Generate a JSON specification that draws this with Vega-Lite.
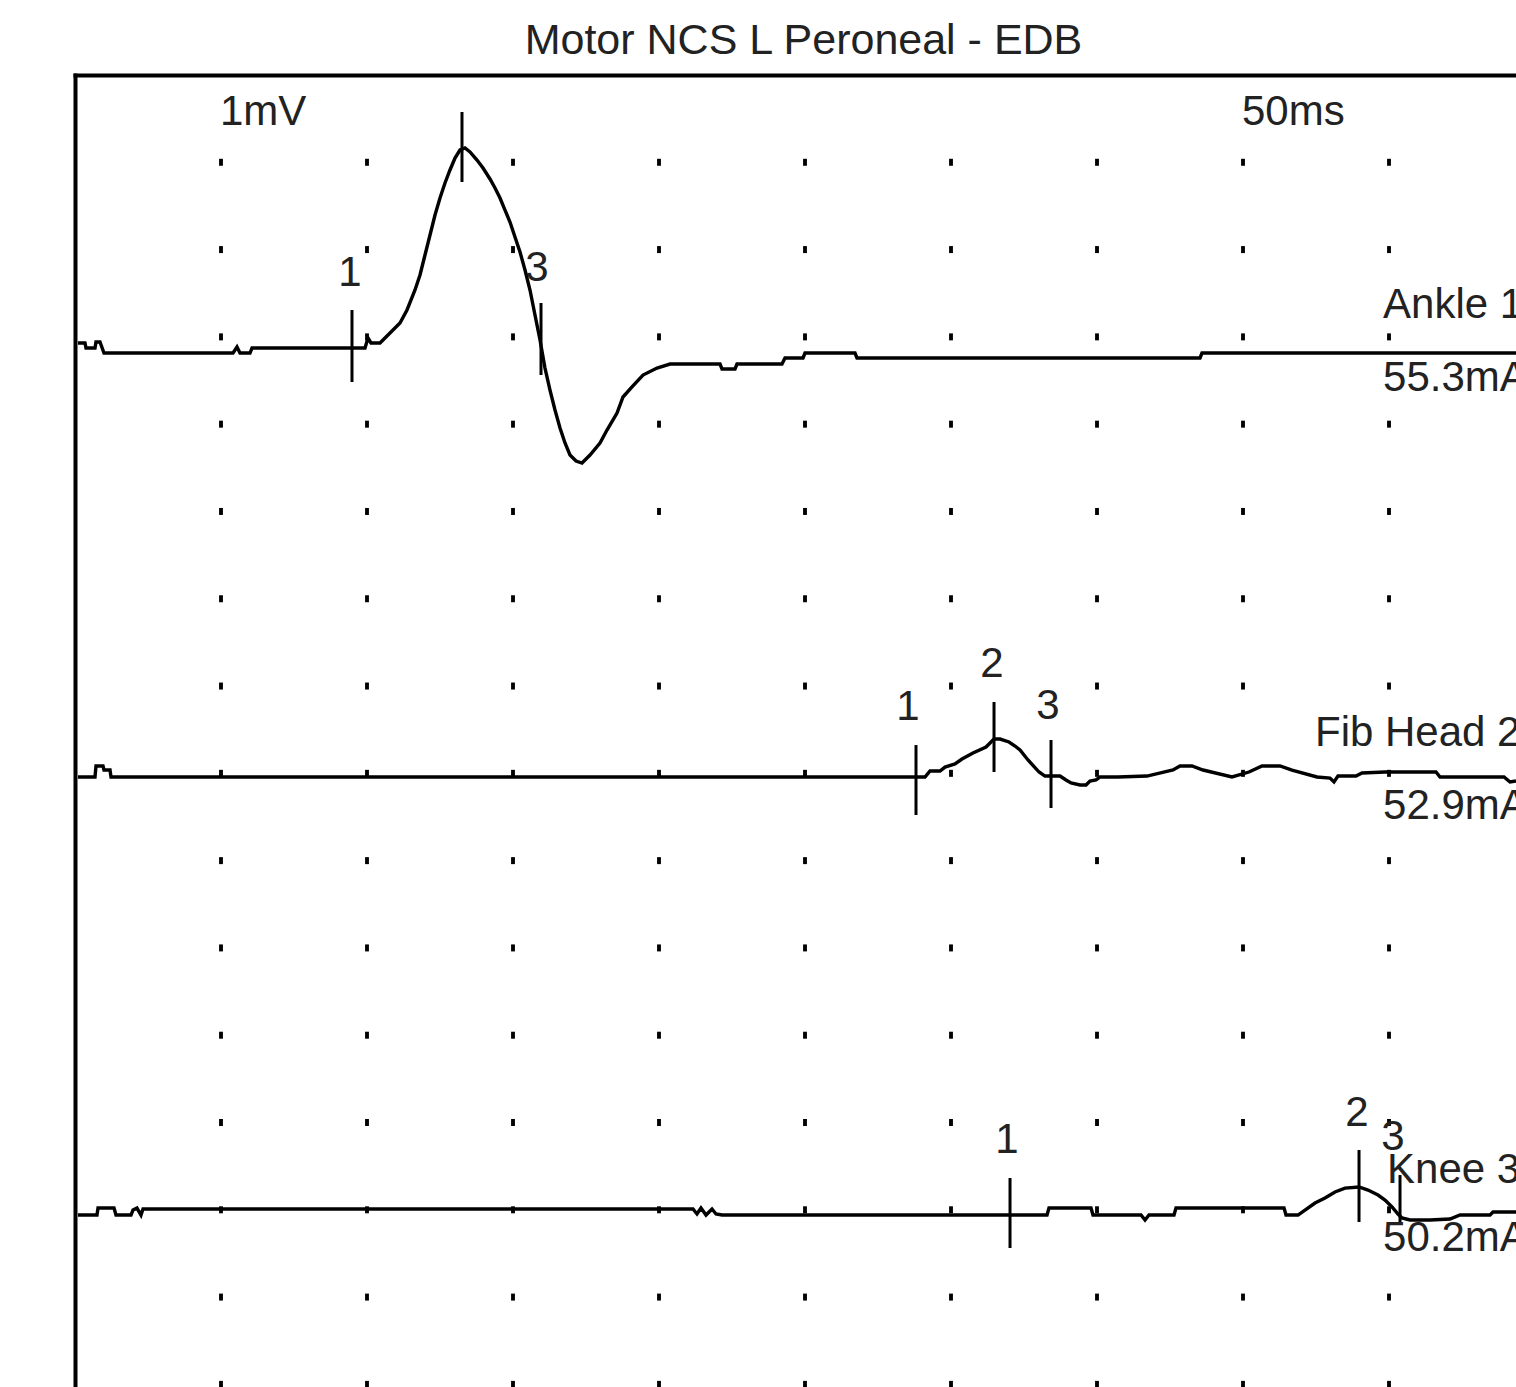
{
  "$schema": "https://vega.github.io/schema/vega-lite/v6.json",
  "width": 1441,
  "height": 1312,
  "autosize": {"type": "none"},
  "padding": {"left": 75, "top": 75, "right": 0, "bottom": 0},
  "background": "white",
  "title": {"text": "Motor NCS L Peroneal - EDB", "font": "Liberation Sans", "fontSize": 43, "fontWeight": "normal", "color": "#222222", "anchor": "middle", "dx": 8, "dy": 40, "offset": 18, "baseline": "alphabetic"},
  "config": {
    "view": {"stroke": null},
    "axisX": {"domain": true, "domainColor": "black", "domainWidth": 4, "domainCap": "square", "ticks": false, "labels": false, "grid": false, "title": null},
    "axisY": {"domain": true, "domainColor": "black", "domainWidth": 4, "domainCap": "square", "ticks": false, "labels": false, "grid": false, "title": null}
  },
  "datasets": {
    "grid": [
      {"x": 5, "ys": [0,1,2,3,4,5,6,7,8,9,10,11,12,13,14]},
      {"x": 10, "ys": [0,1,2,3,4,5,6,7,8,9,10,11,12,13,14]},
      {"x": 15, "ys": [0,1,2,3,4,5,6,7,8,9,10,11,12,13,14]},
      {"x": 20, "ys": [0,1,2,3,4,5,6,7,8,9,10,11,12,13,14]},
      {"x": 25, "ys": [0,1,2,3,4,5,6,7,8,9,10,11,12,13,14]},
      {"x": 30, "ys": [0,1,2,3,4,5,6,7,8,9,10,11,12,13,14]},
      {"x": 35, "ys": [0,1,2,3,4,5,6,7,8,9,10,11,12,13,14]},
      {"x": 40, "ys": [0,1,2,3,4,5,6,7,8,9,10,11,12,13,14]},
      {"x": 45, "ys": [0,1,2,3,4,5,6,7,8,9,10,11,12,13,14]}
    ],
    "traces": [
      {"t":"Ankle","x":0.103,"y":11.930},{"t":"Ankle","x":0.342,"y":11.930},{"t":"Ankle","x":0.377,"y":11.872},{"t":"Ankle","x":0.685,"y":11.872},
      {"t":"Ankle","x":0.719,"y":11.941},{"t":"Ankle","x":0.856,"y":11.941},{"t":"Ankle","x":0.993,"y":11.815},{"t":"Ankle","x":5.411,"y":11.815},
      {"t":"Ankle","x":5.548,"y":11.884},{"t":"Ankle","x":5.651,"y":11.815},{"t":"Ankle","x":5.993,"y":11.815},{"t":"Ankle","x":6.062,"y":11.872},
      {"t":"Ankle","x":9.932,"y":11.872},{"t":"Ankle","x":10.034,"y":11.987},{"t":"Ankle","x":10.137,"y":11.930},{"t":"Ankle","x":10.445,"y":11.930},
      {"t":"Ankle","x":10.788,"y":12.044},{"t":"Ankle","x":11.130,"y":12.159},{"t":"Ankle","x":11.370,"y":12.308},{"t":"Ankle","x":11.644,"y":12.537},
      {"t":"Ankle","x":11.815,"y":12.709},{"t":"Ankle","x":11.986,"y":12.938},{"t":"Ankle","x":12.158,"y":13.167},{"t":"Ankle","x":12.329,"y":13.396},
      {"t":"Ankle","x":12.500,"y":13.591},{"t":"Ankle","x":12.671,"y":13.763},{"t":"Ankle","x":12.842,"y":13.912},{"t":"Ankle","x":13.014,"y":14.049},
      {"t":"Ankle","x":13.185,"y":14.141},{"t":"Ankle","x":13.356,"y":14.164},{"t":"Ankle","x":13.527,"y":14.118},{"t":"Ankle","x":13.767,"y":14.026},
      {"t":"Ankle","x":13.973,"y":13.935},{"t":"Ankle","x":14.212,"y":13.809},{"t":"Ankle","x":14.384,"y":13.705},{"t":"Ankle","x":14.555,"y":13.591},
      {"t":"Ankle","x":14.726,"y":13.453},{"t":"Ankle","x":14.897,"y":13.316},{"t":"Ankle","x":15.068,"y":13.144},{"t":"Ankle","x":15.240,"y":12.972},
      {"t":"Ankle","x":15.411,"y":12.766},{"t":"Ankle","x":15.582,"y":12.537},{"t":"Ankle","x":15.753,"y":12.251},{"t":"Ankle","x":15.925,"y":11.964},
      {"t":"Ankle","x":16.096,"y":11.643},{"t":"Ankle","x":16.267,"y":11.391},{"t":"Ankle","x":16.438,"y":11.162},{"t":"Ankle","x":16.610,"y":10.956},
      {"t":"Ankle","x":16.781,"y":10.784},{"t":"Ankle","x":16.952,"y":10.647},
      {"t":"Ankle","x":17.158,"y":10.578},{"t":"Ankle","x":17.363,"y":10.555},{"t":"Ankle","x":17.637,"y":10.647},{"t":"Ankle","x":17.979,"y":10.784},
      {"t":"Ankle","x":18.219,"y":10.933},{"t":"Ankle","x":18.562,"y":11.128},{"t":"Ankle","x":18.767,"y":11.311},{"t":"Ankle","x":19.075,"y":11.426},
      {"t":"Ankle","x":19.452,"y":11.563},{"t":"Ankle","x":19.932,"y":11.643},{"t":"Ankle","x":20.377,"y":11.689},{"t":"Ankle","x":22.089,"y":11.689},
      {"t":"Ankle","x":22.158,"y":11.632},{"t":"Ankle","x":22.603,"y":11.632},{"t":"Ankle","x":22.671,"y":11.689},{"t":"Ankle","x":24.212,"y":11.689},
      {"t":"Ankle","x":24.315,"y":11.758},{"t":"Ankle","x":24.932,"y":11.758},{"t":"Ankle","x":25.000,"y":11.815},{"t":"Ankle","x":26.712,"y":11.815},
      {"t":"Ankle","x":26.781,"y":11.758},{"t":"Ankle","x":38.527,"y":11.758},{"t":"Ankle","x":38.596,"y":11.815},{"t":"Ankle","x":49.349,"y":11.815},
      {"t":"Fib","x":0.103,"y":6.958},{"t":"Fib","x":0.685,"y":6.958},{"t":"Fib","x":0.719,"y":7.084},{"t":"Fib","x":0.959,"y":7.084},
      {"t":"Fib","x":0.993,"y":7.038},{"t":"Fib","x":1.199,"y":7.038},{"t":"Fib","x":1.233,"y":6.958},{"t":"Fib","x":28.801,"y":6.958},
      {"t":"Fib","x":29.110,"y":6.958},{"t":"Fib","x":29.281,"y":7.027},{"t":"Fib","x":29.623,"y":7.027},{"t":"Fib","x":29.795,"y":7.072},
      {"t":"Fib","x":30.137,"y":7.107},{"t":"Fib","x":30.377,"y":7.164},{"t":"Fib","x":30.753,"y":7.233},{"t":"Fib","x":31.199,"y":7.302},
      {"t":"Fib","x":31.473,"y":7.393},{"t":"Fib","x":31.678,"y":7.393},{"t":"Fib","x":31.986,"y":7.359},{"t":"Fib","x":32.192,"y":7.313},
      {"t":"Fib","x":32.363,"y":7.267},{"t":"Fib","x":32.637,"y":7.153},{"t":"Fib","x":33.014,"y":7.015},{"t":"Fib","x":33.219,"y":6.969},
      {"t":"Fib","x":33.733,"y":6.969},{"t":"Fib","x":33.938,"y":6.924},{"t":"Fib","x":34.110,"y":6.889},{"t":"Fib","x":34.418,"y":6.866},
      {"t":"Fib","x":34.623,"y":6.866},{"t":"Fib","x":34.760,"y":6.912},{"t":"Fib","x":34.966,"y":6.924},{"t":"Fib","x":35.103,"y":6.958},
      {"t":"Fib","x":35.719,"y":6.958},{"t":"Fib","x":36.712,"y":6.969},{"t":"Fib","x":37.603,"y":7.038},{"t":"Fib","x":37.842,"y":7.084},
      {"t":"Fib","x":38.253,"y":7.084},{"t":"Fib","x":38.630,"y":7.038},{"t":"Fib","x":39.623,"y":6.958},{"t":"Fib","x":40.205,"y":7.015},
      {"t":"Fib","x":40.651,"y":7.084},{"t":"Fib","x":41.267,"y":7.084},{"t":"Fib","x":41.678,"y":7.038},{"t":"Fib","x":42.534,"y":6.958},
      {"t":"Fib","x":42.979,"y":6.946},{"t":"Fib","x":43.116,"y":6.901},{"t":"Fib","x":43.253,"y":6.969},{"t":"Fib","x":43.870,"y":6.969},
      {"t":"Fib","x":44.075,"y":7.004},{"t":"Fib","x":44.863,"y":7.015},{"t":"Fib","x":46.610,"y":7.015},{"t":"Fib","x":46.747,"y":6.958},
      {"t":"Fib","x":48.938,"y":6.958},{"t":"Fib","x":49.144,"y":6.901},{"t":"Fib","x":49.349,"y":6.912},
      {"t":"Knee","x":0.103,"y":1.940},{"t":"Knee","x":0.753,"y":1.940},{"t":"Knee","x":0.788,"y":2.020},{"t":"Knee","x":1.336,"y":2.020},
      {"t":"Knee","x":1.404,"y":1.940},{"t":"Knee","x":1.918,"y":1.940},{"t":"Knee","x":1.986,"y":1.997},{"t":"Knee","x":2.123,"y":2.020},
      {"t":"Knee","x":2.260,"y":1.940},{"t":"Knee","x":2.329,"y":2.009},{"t":"Knee","x":21.164,"y":2.009},{"t":"Knee","x":21.301,"y":1.952},
      {"t":"Knee","x":21.438,"y":2.020},{"t":"Knee","x":21.610,"y":1.940},{"t":"Knee","x":21.815,"y":2.009},{"t":"Knee","x":21.952,"y":1.952},
      {"t":"Knee","x":22.158,"y":1.940},{"t":"Knee","x":32.021,"y":1.940},{"t":"Knee","x":33.288,"y":1.940},{"t":"Knee","x":33.356,"y":2.020},
      {"t":"Knee","x":34.795,"y":2.020},{"t":"Knee","x":34.863,"y":1.940},{"t":"Knee","x":36.507,"y":1.940},{"t":"Knee","x":36.644,"y":1.883},
      {"t":"Knee","x":36.781,"y":1.940},{"t":"Knee","x":37.637,"y":1.940},{"t":"Knee","x":37.705,"y":2.020},{"t":"Knee","x":41.404,"y":2.020},
      {"t":"Knee","x":41.473,"y":1.940},{"t":"Knee","x":41.884,"y":1.940},{"t":"Knee","x":42.123,"y":1.997},{"t":"Knee","x":42.466,"y":2.078},
      {"t":"Knee","x":42.808,"y":2.135},{"t":"Knee","x":43.151,"y":2.204},{"t":"Knee","x":43.493,"y":2.249},{"t":"Knee","x":43.973,"y":2.261},
      {"t":"Knee","x":44.281,"y":2.226},{"t":"Knee","x":44.623,"y":2.169},{"t":"Knee","x":44.863,"y":2.112},{"t":"Knee","x":45.103,"y":2.032},
      {"t":"Knee","x":45.308,"y":1.952},{"t":"Knee","x":45.445,"y":1.906},{"t":"Knee","x":45.719,"y":1.883},{"t":"Knee","x":46.404,"y":1.883},
      {"t":"Knee","x":47.089,"y":1.894},{"t":"Knee","x":47.432,"y":1.940},{"t":"Knee","x":48.459,"y":1.940},{"t":"Knee","x":48.562,"y":1.974},
      {"t":"Knee","x":49.349,"y":1.974}
    ],
    "markers": [
      {"t":"Ankle","m":1,"x":9.486,"y1":12.308,"y2":11.483},
      {"t":"Ankle","m":2,"x":13.253,"y1":14.576,"y2":13.774},
      {"t":"Ankle","m":3,"x":15.959,"y1":12.388,"y2":11.563},
      {"t":"Fib","m":1,"x":28.801,"y1":7.324,"y2":6.523},
      {"t":"Fib","m":2,"x":31.473,"y1":7.817,"y2":7.015},
      {"t":"Fib","m":3,"x":33.425,"y1":7.382,"y2":6.603},
      {"t":"Knee","m":1,"x":32.021,"y1":2.364,"y2":1.562},
      {"t":"Knee","m":2,"x":43.973,"y1":2.685,"y2":1.860},
      {"t":"Knee","m":3,"x":45.377,"y1":2.398,"y2":1.826}
    ],
    "labels": [
      {"k":"m","text":"1","x":9.418,"y":12.732},
      {"k":"m","text":"3","x":15.822,"y":12.789},
      {"k":"m","text":"1","x":28.527,"y":7.760},
      {"k":"m","text":"2","x":31.404,"y":8.252},
      {"k":"m","text":"3","x":33.322,"y":7.771},
      {"k":"m","text":"1","x":31.918,"y":2.799},
      {"k":"m","text":"2","x":43.904,"y":3.109},
      {"k":"m","text":"3","x":45.137,"y":2.834},
      {"k":"s","text":"1mV","x":4.966,"y":14.576},
      {"k":"s","text":"50ms","x":39.966,"y":14.576},
      {"k":"s","text":"Ankle 1","x":44.795,"y":12.365},
      {"k":"s","text":"55.3mA","x":44.795,"y":11.529},
      {"k":"s","text":"Fib Head 2","x":42.466,"y":7.462},
      {"k":"s","text":"52.9mA","x":44.795,"y":6.626},
      {"k":"s","text":"Knee 3","x":44.932,"y":2.456},
      {"k":"s","text":"50.2mA","x":44.795,"y":1.677}
    ]
  },
  "layer": [
    {
      "data": {"name": "grid"},
      "transform": [{"flatten": ["ys"]}],
      "mark": {"type": "point", "shape": "M-0.55,-1L0.55,-1L0.55,1L-0.55,1Z", "filled": true, "size": 49, "color": "black", "opacity": 1, "strokeWidth": 0},
      "encoding": {
        "x": {"field": "x", "type": "quantitative", "scale": {"domain": [0, 49.349], "nice": false, "zero": false}, "axis": {"orient": "top"}},
        "y": {"field": "ys", "type": "quantitative", "scale": {"domain": [-0.03, 15], "nice": false, "zero": false}, "axis": {"orient": "left"}}
      }
    },
    {
      "data": {"name": "traces"},
      "mark": {"type": "line", "color": "black", "strokeWidth": 3.4, "interpolate": "linear"},
      "encoding": {
        "x": {"field": "x", "type": "quantitative", "scale": {"domain": [0, 49.349], "nice": false, "zero": false}, "axis": {"orient": "top"}},
        "y": {"field": "y", "type": "quantitative", "scale": {"domain": [-0.03, 15], "nice": false, "zero": false}, "axis": {"orient": "left"}},
        "detail": {"field": "t"}
      }
    },
    {
      "data": {"name": "markers"},
      "mark": {"type": "rule", "color": "black", "strokeWidth": 3},
      "encoding": {
        "x": {"field": "x", "type": "quantitative", "scale": {"domain": [0, 49.349], "nice": false, "zero": false}, "axis": {"orient": "top"}},
        "y": {"field": "y1", "type": "quantitative", "scale": {"domain": [-0.03, 15], "nice": false, "zero": false}, "axis": {"orient": "left"}},
        "y2": {"field": "y2"}
      }
    },
    {
      "data": {"name": "labels"},
      "transform": [{"filter": "datum.k === 'm'"}],
      "mark": {"type": "text", "font": "Liberation Sans", "fontSize": 42, "color": "#222222", "align": "center", "baseline": "middle"},
      "encoding": {
        "x": {"field": "x", "type": "quantitative", "scale": {"domain": [0, 49.349], "nice": false, "zero": false}, "axis": {"orient": "top"}},
        "y": {"field": "y", "type": "quantitative", "scale": {"domain": [-0.03, 15], "nice": false, "zero": false}, "axis": {"orient": "left"}},
        "text": {"field": "text"}
      }
    },
    {
      "data": {"name": "labels"},
      "transform": [{"filter": "datum.k === 's'"}],
      "mark": {"type": "text", "font": "Liberation Sans", "fontSize": 42, "color": "#222222", "align": "left", "baseline": "middle"},
      "encoding": {
        "x": {"field": "x", "type": "quantitative", "scale": {"domain": [0, 49.349], "nice": false, "zero": false}, "axis": {"orient": "top"}},
        "y": {"field": "y", "type": "quantitative", "scale": {"domain": [-0.03, 15], "nice": false, "zero": false}, "axis": {"orient": "left"}},
        "text": {"field": "text"}
      }
    }
  ]
}
